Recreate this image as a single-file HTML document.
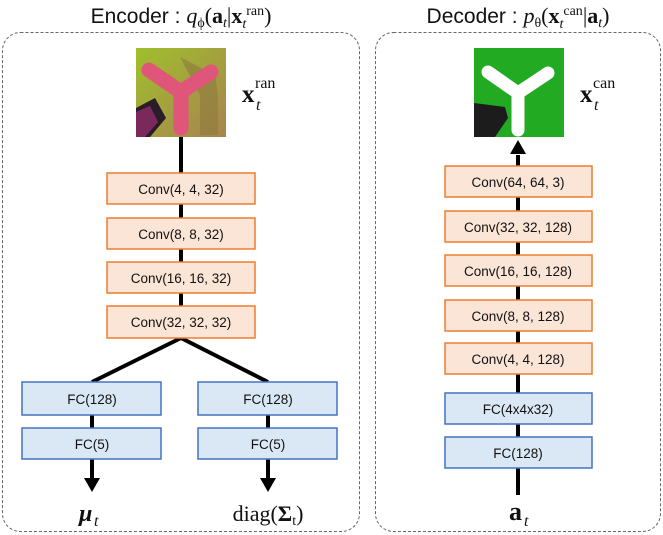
<!DOCTYPE html>
<html><head><meta charset="utf-8"><style>
html,body{margin:0;padding:0;background:#fff;}
svg{display:block;}
.c{fill:#fbe5d6;stroke:#ed7d31;stroke-width:1.5;}
.f{fill:#dae8f5;stroke:#4472c4;stroke-width:1.5;}
.t{font-family:"Liberation Sans",sans-serif;font-size:13.5px;fill:#111;text-anchor:middle;}
.m{font-family:"Liberation Serif",serif;fill:#111;}
</style></head><body>
<svg width="663" height="535" viewBox="0 0 663 535" xmlns="http://www.w3.org/2000/svg">
<defs>
<linearGradient id="g1" x1="0" y1="0" x2="1" y2="1"><stop offset="0" stop-color="#9fc02c"/><stop offset="1" stop-color="#a98350"/></linearGradient>
</defs>
<rect x="2.5" y="32.5" width="357" height="499" rx="18" fill="none" stroke="#666" stroke-dasharray="3,2"/>
<rect x="375.5" y="32.5" width="285" height="499" rx="18" fill="none" stroke="#666" stroke-dasharray="3,2"/>
<text x="181" y="23" class="t" style="font-size:21px">Encoder : <tspan class="m" font-style="italic" font-size="22">q</tspan><tspan class="m" font-size="14" dy="4">ϕ</tspan><tspan class="m" font-size="22" dy="-4">(</tspan><tspan class="m" font-weight="bold" font-size="22">a</tspan><tspan class="m" font-style="italic" font-size="14" dy="4">t</tspan><tspan class="m" font-size="22" dy="-4">|</tspan><tspan class="m" font-weight="bold" font-size="22">x</tspan><tspan class="m" font-style="italic" font-size="14" dy="5">t</tspan><tspan class="m" font-size="14" dy="-13">ran</tspan><tspan class="m" font-size="22" dy="8">)</tspan></text>
<text x="518" y="23" class="t" style="font-size:21px">Decoder : <tspan class="m" font-style="italic" font-size="22">p</tspan><tspan class="m" font-size="14" dy="4">θ</tspan><tspan class="m" font-size="22" dy="-4">(</tspan><tspan class="m" font-weight="bold" font-size="22">x</tspan><tspan class="m" font-style="italic" font-size="14" dy="5">t</tspan><tspan class="m" font-size="14" dy="-13">can</tspan><tspan class="m" font-size="22" dy="8">|</tspan><tspan class="m" font-weight="bold" font-size="22">a</tspan><tspan class="m" font-style="italic" font-size="14" dy="4">t</tspan><tspan class="m" font-size="22" dy="-4">)</tspan></text>
<!-- encoder image -->
<rect x="136" y="48" width="90" height="89" fill="url(#g1)"/>
<path d="M180 57 L200 95 L200 135 L218 135 L218 95 L215 75 L205 70 Z" fill="#8e7a3e" opacity="0.6"/>
<g stroke="#e0557a" stroke-width="15" stroke-linecap="round" fill="none"><path d="M149 70 L181 92 L211 72 M181 92 L181 128"/></g>
<path d="M136 108 L155 98 L166 118 L150 137 L136 137 Z" fill="#2a1c28"/>
<path d="M136 112 L150 106 L158 122 L145 137 L136 137 Z" fill="#7a2a5a"/>
<!-- decoder image -->
<rect x="474" y="48" width="90" height="89" fill="#22aa22"/>
<g stroke="#fff" stroke-width="13" stroke-linecap="round" fill="none"><path d="M488 72 L518 93 L548 73 M518 93 L518 130"/></g>
<path d="M474 103 L505 107 L508 118 L495 137 L474 137 Z" fill="#1c1c1c"/>
<text x="242" y="102" class="m" font-size="25" font-weight="bold">x</text><text x="256" y="110" class="m" font-size="16" font-style="italic">t</text><text x="255" y="88" class="m" font-size="16">ran</text>
<text x="580" y="102" class="m" font-size="25" font-weight="bold">x</text><text x="594" y="110" class="m" font-size="16" font-style="italic">t</text><text x="593" y="88" class="m" font-size="16">can</text>
<!-- lines -->
<g stroke="#000" stroke-width="4" fill="none">
<line x1="181" y1="137" x2="181" y2="306"/>
<path d="M181 338 L92 382 M181 338 L268 382"/>
<line x1="92" y1="415" x2="92" y2="480"/>
<line x1="268" y1="415" x2="268" y2="480"/>
<line x1="518" y1="155" x2="518" y2="495"/>
</g>
<polygon points="84,478 100,478 92,492" fill="#000"/>
<polygon points="260,478 276,478 268,492" fill="#000"/>
<polygon points="510,154 526,154 518,140" fill="#000"/>
<rect class="c" x="107" y="173" width="148" height="31"/><text class="t" x="181" y="194">Conv(4, 4, 32)</text>
<rect class="c" x="107" y="218" width="148" height="31"/><text class="t" x="181" y="239">Conv(8, 8, 32)</text>
<rect class="c" x="107" y="262" width="148" height="31"/><text class="t" x="181" y="283">Conv(16, 16, 32)</text>
<rect class="c" x="107" y="306" width="148" height="32"/><text class="t" x="181" y="327">Conv(32, 32, 32)</text>
<rect class="f" x="22" y="382" width="139" height="33"/><text class="t" x="92" y="404">FC(128)</text>
<rect class="f" x="22" y="428" width="139" height="31"/><text class="t" x="92" y="449">FC(5)</text>
<rect class="f" x="198" y="382" width="139" height="33"/><text class="t" x="268" y="404">FC(128)</text>
<rect class="f" x="198" y="428" width="139" height="31"/><text class="t" x="268" y="449">FC(5)</text>
<text x="79" y="521" class="m" font-size="24" font-weight="bold" font-style="italic">μ</text><text x="94" y="526" class="m" font-size="16" font-style="italic">t</text>
<text x="268" y="521" class="m" font-size="22" text-anchor="middle">diag(<tspan font-weight="bold">Σ</tspan><tspan font-size="14" dy="4">t</tspan><tspan dy="-4">)</tspan></text>
<rect class="c" x="445" y="166" width="147" height="31"/><text class="t" x="518" y="187">Conv(64, 64, 3)</text>
<rect class="c" x="445" y="211" width="147" height="31"/><text class="t" x="518" y="232">Conv(32, 32, 128)</text>
<rect class="c" x="445" y="255" width="147" height="31"/><text class="t" x="518" y="276">Conv(16, 16, 128)</text>
<rect class="c" x="445" y="300" width="147" height="31"/><text class="t" x="518" y="321">Conv(8, 8, 128)</text>
<rect class="c" x="445" y="343" width="147" height="31"/><text class="t" x="518" y="364">Conv(4, 4, 128)</text>
<rect class="f" x="445" y="393" width="147" height="31"/><text class="t" x="518" y="414">FC(4x4x32)</text>
<rect class="f" x="445" y="437" width="147" height="31"/><text class="t" x="518" y="458">FC(128)</text>
<text x="509" y="520" class="m" font-size="26" font-weight="bold">a</text><text x="524" y="526" class="m" font-size="16" font-style="italic">t</text>
</svg>
</body></html>
